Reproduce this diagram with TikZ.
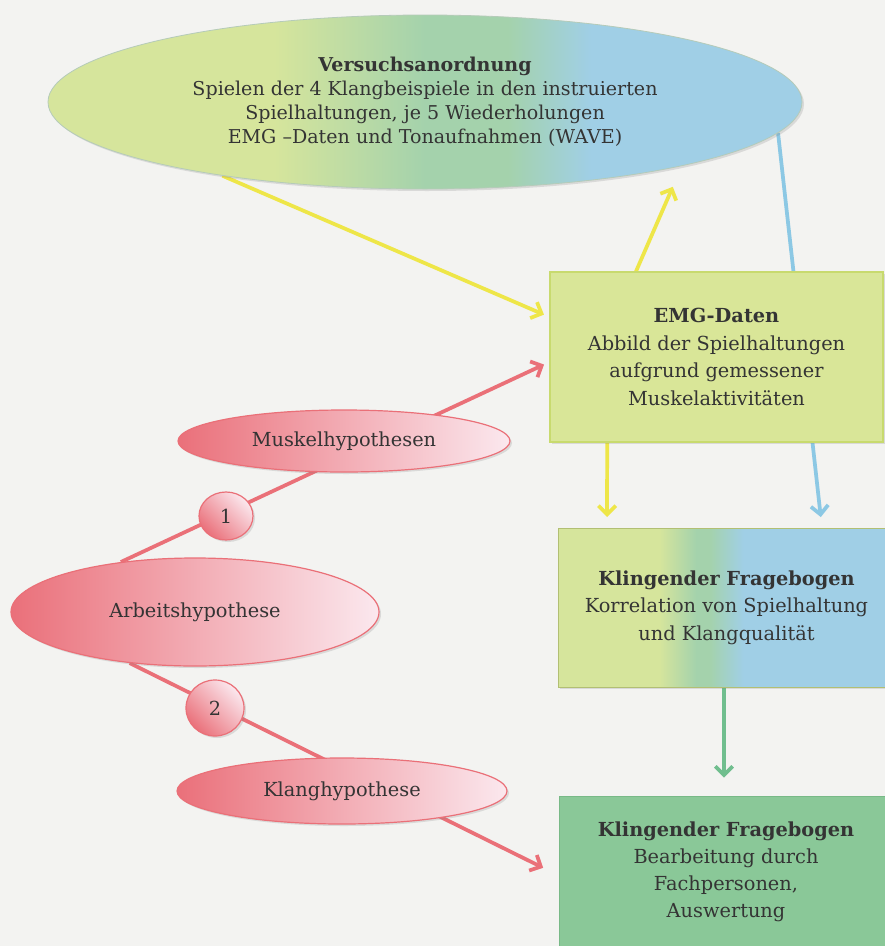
\documentclass[tikz,border=0pt]{standalone}
\usepackage{fontspec}
\setmainfont{DejaVu Serif}
\usetikzlibrary{shapes.geometric,arrows.meta,shadows,calc}
\definecolor{bgcol}{RGB}{243,243,241}
\definecolor{ylg}{RGB}{214,229,156}
\definecolor{grn}{RGB}{164,210,172}
\definecolor{blu}{RGB}{160,207,230}
\definecolor{emgfill}{RGB}{217,230,152}
\definecolor{emgline}{RGB}{200,218,110}
\definecolor{kfill}{RGB}{138,200,152}
\definecolor{kline}{RGB}{120,185,135}
\definecolor{yline}{RGB}{238,230,72}
\definecolor{bline}{RGB}{140,200,228}
\definecolor{gline}{RGB}{112,190,142}
\definecolor{rline}{RGB}{234,112,120}
\definecolor{rdark}{RGB}{234,112,122}
\definecolor{rlight}{RGB}{251,232,238}
\definecolor{txt}{RGB}{52,52,52}
\pgfdeclarehorizontalshading{ellshade}{100bp}{color(0bp)=(ylg); color(40bp)=(ylg); color(50bp)=(grn); color(55.5bp)=(grn); color(61bp)=(blu); color(100bp)=(blu)}
\pgfdeclarehorizontalshading{boxshade}{100bp}{color(0bp)=(ylg); color(40bp)=(ylg); color(45.5bp)=(grn); color(47.5bp)=(grn); color(52.5bp)=(blu); color(100bp)=(blu)}
\pgfdeclarelayer{bgfill}
\pgfdeclarelayer{background}
\pgfsetlayers{bgfill,background,main}
\begin{document}
\begin{tikzpicture}[x=0.75pt,y=-0.75pt,
  every node/.style={text=txt, align=center, inner sep=0pt},
  shadowed/.style={drop shadow={opacity=0.22, shadow xshift=1.5pt, shadow yshift=-1.5pt}},
  bigell/.style={ellipse, shading=ellshade, draw=grn!80!black!60, line width=0.6pt, shadowed,
    minimum width=565.5pt, minimum height=130.5pt, font=\fontsize{14.3}{18}\selectfont},
  boxtext/.style={font=\fontsize{14.5}{20.6}\selectfont},
  emgbox/.style={rectangle, fill=emgfill, draw=emgline, line width=0.8pt, shadowed, boxtext,
    minimum width=249.75pt, minimum height=127.5pt},
  kbox/.style={rectangle, shading=boxshade, draw=emgline!70!gray, line width=0.5pt, shadowed, boxtext,
    minimum width=252.75pt, minimum height=119.25pt},
  k2box/.style={rectangle, fill=kfill, draw=kline, line width=0.5pt,
    minimum width=250.5pt, minimum height=114pt, font=\fontsize{14.5}{20.25}\selectfont},
  redell/.style={ellipse, left color=rdark, right color=rlight, draw=rline, line width=0.9pt,
    shadowed, font=\fontsize{14.5}{16}\selectfont},
  redcirc/.style={ellipse, left color=rdark, right color=rlight, shading angle=135, draw=rline,
    line width=0.9pt, shadowed, font=\fontsize{14.5}{16}\selectfont},
  conn/.style={line width=2.8pt, -{Straight Barb[length=6.5pt,width=13pt]}},
  yconn/.style={conn, draw=yline},
  bconn/.style={conn, draw=bline},
  gconn/.style={conn, draw=gline},
  rconn/.style={conn, draw=rline}
]
\useasboundingbox (0,0) rectangle (885,946);
\clip (0,0) rectangle (885,946);
\begin{pgfonlayer}{bgfill}
  \fill[bgcol] (0,0) rectangle (885,946);
\end{pgfonlayer}

\node[bigell] (ell) at (425,102) {\textbf{Versuchsanordnung}\\Spielen der 4 Klangbeispiele in den instruierten\\Spielhaltungen, je 5 Wiederholungen\\EMG –Daten und Tonaufnahmen (WAVE)};

\node[emgbox] (emg) at (716.5,357) {\textbf{EMG-Daten}\\Abbild der Spielhaltungen\\aufgrund gemessener\\Muskelaktivitäten};

\node[kbox] (k1) at (726.5,607.5) {\textbf{Klingender Fragebogen}\\Korrelation von Spielhaltung\\und Klangqualität};

\node[k2box] (k2) at (726,872) {\textbf{Klingender Fragebogen}\\Bearbeitung durch\\Fachpersonen,\\Auswertung};

\node[redell, minimum width=276pt, minimum height=81pt] (arb) at (195,612) {Arbeitshypothese};
\node[redell, minimum width=249pt, minimum height=46.5pt] (mus) at (344,441) {Muskelhypothesen};
\node[redell, minimum width=247.5pt, minimum height=49.5pt] (kla) at (342,791) {Klanghypothese};
\node[redcirc, minimum width=40.5pt, minimum height=36pt] (c1) at (226,516) {1};
\node[redcirc, minimum width=43.5pt, minimum height=42pt] (c2) at (215,708) {2};

\begin{pgfonlayer}{background}
  \draw[bconn, shorten >=8pt] (ell.-5) -- ([xshift=71.6pt]k1.north);
  \draw[yconn, shorten >=4.5pt] (ell.200) -- ([yshift=30pt]emg.west);
  \draw[yconn, shorten >=17pt] ([xshift=-60.4pt]emg.north) -- (ell.-14.5);
  \draw[yconn, shorten >=8pt] ([xshift=-82pt]emg.south) -- ([xshift=-89.6pt]k1.north);
  \draw[gconn, shorten >=13.5pt] ([xshift=-1.9pt]k1.south) -- ([xshift=-1.5pt]k2.north);
  \draw[rconn, shorten >=4.5pt] (arb.146) -- ([yshift=-3.75pt]emg.west);
  \draw[rconn, shorten >=13pt] (arb.218) -- ([yshift=-2.6pt]k2.west);
\end{pgfonlayer}
\end{tikzpicture}
\end{document}
